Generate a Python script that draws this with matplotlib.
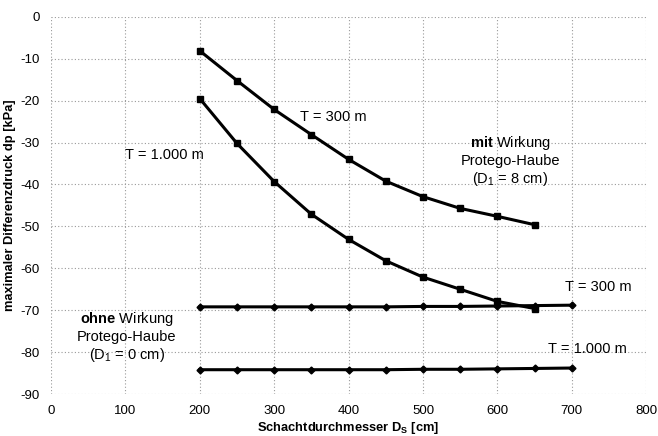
import matplotlib
matplotlib.use("Agg")
import matplotlib.pyplot as plt

plt.rcParams['font.family'] = ['Liberation Sans', 'DejaVu Sans']
plt.rcParams['axes.unicode_minus'] = False
plt.rcParams['mathtext.fontset'] = 'custom'
plt.rcParams['mathtext.rm'] = 'Liberation Sans'
plt.rcParams['mathtext.bf'] = 'Liberation Sans:bold'
plt.rcParams['mathtext.it'] = 'Liberation Sans:italic'

x_mit = [200, 250, 300, 350, 400, 450, 500, 550, 600, 650]
mit_T300 = [-8.1, -15.2, -22.1, -28.1, -34.0, -39.2, -42.9, -45.7, -47.6, -49.6]
mit_T1000 = [-19.5, -30.2, -39.3, -47.1, -53.1, -58.2, -62.1, -65.0, -67.9, -69.6]
x_ohne = [200, 250, 300, 350, 400, 450, 500, 550, 600, 650, 700]
ohne_T300 = [-69.2, -69.2, -69.2, -69.2, -69.2, -69.2, -69.1, -69.1, -69.0, -68.9, -68.8]
ohne_T1000 = [-84.2, -84.2, -84.2, -84.2, -84.2, -84.2, -84.1, -84.1, -84.0, -83.9, -83.8]

xticks = [0, 100, 200, 300, 400, 500, 600, 700, 800]
yticks = [0, -10, -20, -30, -40, -50, -60, -70, -80, -90]

fig = plt.figure(figsize=(6.58, 4.36), dpi=100)
ax = fig.add_axes([0.0775, 0.0963, 0.9045, 0.865])

ax.plot(x_mit, mit_T300, color='black', lw=2.2, marker='s', ms=5, zorder=3)
ax.plot(x_mit, mit_T1000, color='black', lw=2.2, marker='s', ms=5, zorder=3)
ax.plot(x_ohne, ohne_T300, color='black', lw=2.2, marker='D', ms=3.5, zorder=3)
ax.plot(x_ohne, ohne_T1000, color='black', lw=2.2, marker='D', ms=3.5, zorder=3)

ax.set_xlim(0, 800)
ax.set_ylim(-90, 0)
ax.set_xticks(xticks)
ax.set_yticks(yticks)
ax.tick_params(length=0, labelsize=9.5, pad=8)
for s in ax.spines.values():
    s.set_visible(False)
ax.grid(True, color='#999999', ls=(0, (1, 2)), lw=0.8)

ax.set_xlabel('Schachtdurchmesser D$_\\mathregular{S}$ [cm]', fontsize=9.3, fontweight='bold', labelpad=2)
ax.set_ylabel('maximaler Differenzdruck dp [kPa]', fontsize=9.3, fontweight='bold', labelpad=3)

fs = 10.5
ax.text(100, -33, 'T = 1.000 m', fontsize=fs, va='center', ha='left')
ax.text(335, -23.8, 'T = 300 m', fontsize=fs, va='center', ha='left')
ax.text(691, -64.5, 'T = 300 m', fontsize=fs, va='center', ha='left')
ax.text(668, -79.3, 'T = 1.000 m', fontsize=fs, va='center', ha='left')

ax.text(617, -30, r'$\mathbf{mit}$ Wirkung', fontsize=fs, ha='center', va='center')
ax.text(617, -34.4, 'Protego-Haube', fontsize=fs, ha='center', va='center')
ax.text(617, -38.7, '(D$_\\mathregular{1}$ = 8 cm)', fontsize=fs, ha='center', va='center')

ax.text(102, -72.1, r'$\mathbf{ohne}$ Wirkung', fontsize=fs, ha='center', va='center')
ax.text(102, -76.4, 'Protego-Haube', fontsize=fs, ha='center', va='center')
ax.text(102, -80.7, '(D$_\\mathregular{1}$ = 0 cm)', fontsize=fs, ha='center', va='center')

fig.savefig('out.png', dpi=100)
